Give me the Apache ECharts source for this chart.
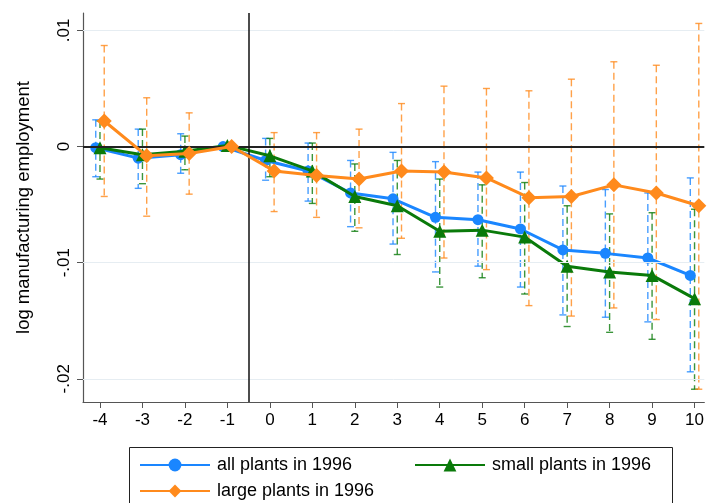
<!DOCTYPE html>
<html>
<head>
<meta charset="utf-8">
<script src="https://cdn.jsdelivr.net/npm/echarts@6/dist/echarts.min.js"></script>
<style>
  html, body { margin: 0; padding: 0; background: #fff; }
  #chart { width: 707px; height: 503px; }
</style>
</head>
<body>
<div id="chart"></div>
<script>
// event time (years relative to 1996)
const periods = [-4, -3, -2, -1, 0, 1, 2, 3, 4, 5, 6, 7, 8, 9, 10];
const yTicks = [-0.02, -0.01, 0, 0.01];

// all plants in 1996
const allVals = [-0.0001, -0.0010, -0.0007, 0, -0.0012, -0.0021, -0.0040, -0.0045, -0.0061, -0.0063, -0.0071, -0.0089, -0.0092, -0.0096, -0.0111];
const allLo = [-0.0026, -0.0036, -0.0023, null, -0.0029, -0.0047, -0.0069, -0.0084, -0.0108, -0.0103, -0.0121, -0.0145, -0.0147, -0.0151, -0.0194];
const allHi = [0.0023, 0.0015, 0.0011, null, 0.0007, 0.0003, -0.0012, -0.0005, -0.0013, -0.0022, -0.0022, -0.0034, -0.0037, -0.0040, -0.0027];

// small plants in 1996
const smallVals = [-0.0001, -0.0007, -0.0004, 0.0001, -0.0008, -0.0021, -0.0043, -0.0051, -0.0073, -0.0072, -0.0078, -0.0103, -0.0108, -0.0111, -0.0131];
const smallLo = [-0.0028, -0.0032, -0.0020, null, -0.0026, -0.0049, -0.0073, -0.0093, -0.0121, -0.0113, -0.0127, -0.0155, -0.0160, -0.0166, -0.0209];
const smallHi = [0.0022, 0.0015, 0.0009, null, 0.0007, 0.0003, -0.0015, -0.0012, -0.0028, -0.0033, -0.0031, -0.0051, -0.0058, -0.0057, -0.0054];

// large plants in 1996
const largeVals = [0.0022, -0.0008, -0.0006, 0, -0.0021, -0.0025, -0.0028, -0.0021, -0.0022, -0.0027, -0.0044, -0.0043, -0.0033, -0.0040, -0.0051];
const largeLo = [-0.0043, -0.0060, -0.0041, null, -0.0056, -0.0061, -0.0070, -0.0079, -0.0096, -0.0106, -0.0137, -0.0146, -0.0139, -0.0149, -0.0209];
const largeHi = [0.0087, 0.0042, 0.0029, null, 0.0012, 0.0012, 0.0015, 0.0037, 0.0052, 0.0050, 0.0048, 0.0058, 0.0073, 0.0070, 0.0106];

const FONT = 'Liberation Sans';
const BLUE = '#1a86ff', GREEN = '#0a7a0a', ORANGE = '#ff8a1c';

const chart = echarts.init(document.getElementById('chart'), null, { renderer: 'canvas' });

function points(vals, shift) {
  return periods.map((p, i) => [p + shift, vals[i]]);
}
function bars(lo, hi, shift) {
  const out = [];
  periods.forEach((p, i) => {
    if (lo[i] != null) out.push([p + shift, lo[i], hi[i]]);
  });
  return out;
}

function errorBar(color) {
  return function (params, api) {
    const x = api.value(0);
    const bot = api.coord([x, api.value(1)]);
    const top = api.coord([x, api.value(2)]);
    const style = { stroke: color, lineWidth: 1.4, opacity: 0.8 };
    return {
      type: 'group',
      children: [
        { type: 'line', shape: { x1: top[0], y1: top[1], x2: bot[0], y2: bot[1] },
          style: Object.assign({ lineDash: [7, 4] }, style) },
        { type: 'line', shape: { x1: top[0] - 3.5, y1: top[1], x2: top[0] + 3.5, y2: top[1] }, style: style },
        { type: 'line', shape: { x1: bot[0] - 3.5, y1: bot[1], x2: bot[0] + 3.5, y2: bot[1] }, style: style }
      ]
    };
  };
}

function yLabel(v) {
  if (Math.abs(v) < 1e-9) return '0';
  const s = Math.abs(v).toFixed(2).replace(/^0/, '');
  return (v < 0 ? '-' : '') + s;
}

const legendText = { fontSize: 18, color: '#000', fontFamily: FONT, padding: [0, 0, 0, 2] };

const option = {
  backgroundColor: '#fff',
  animation: false,
  textStyle: { fontFamily: FONT },
  grid: { left: 83, right: 0, top: 13, bottom: 101, containLabel: false },
  xAxis: {
    type: 'value',
    min: -4.4,
    max: 10.23,
    axisLine: { show: true, onZero: false, lineStyle: { color: '#555', width: 1.2 } },
    axisTick: { show: true, length: 6, customValues: periods, lineStyle: { color: '#555' } },
    axisLabel: { customValues: periods, color: '#000', fontSize: 17, margin: 10, fontFamily: FONT },
    splitLine: { show: false }
  },
  yAxis: {
    type: 'value',
    min: -0.022,
    max: 0.0115,
    name: 'log manufacturing employment',
    nameLocation: 'middle',
    nameRotate: 90,
    nameGap: 50,
    nameTextStyle: { fontSize: 18.5, color: '#000', fontFamily: FONT },
    axisLine: { show: true, onZero: false, lineStyle: { color: '#555', width: 1.2 } },
    axisTick: { show: true, length: 6, customValues: yTicks, lineStyle: { color: '#555' } },
    axisLabel: { customValues: yTicks, rotate: 90, color: '#000', fontSize: 17, margin: 10,
      fontFamily: FONT, formatter: yLabel },
    splitLine: { show: false }
  },
  legend: [
    { data: ['all plants in 1996'], left: 134, top: 451, itemWidth: 70, itemHeight: 16, textStyle: legendText },
    { data: ['small plants in 1996'], left: 409, top: 451, itemWidth: 70, itemHeight: 16, textStyle: legendText },
    { data: ['large plants in 1996'], left: 134, top: 477, itemWidth: 70, itemHeight: 16, textStyle: legendText }
  ],
  graphic: [
    { type: 'rect', left: 127, top: 445, shape: { width: 543, height: 70 },
      style: { fill: 'none', stroke: '#222', lineWidth: 1 }, z: 100 }
  ],
  series: [
    // helper for grid lines and reference lines
    {
      type: 'line', data: [], silent: true,
      markLine: {
        silent: true, symbol: 'none', label: { show: false }, animation: false,
        data: [
          { yAxis: 0.01, lineStyle: { color: '#e6edf2', width: 1, type: 'solid' } },
          { yAxis: -0.01, lineStyle: { color: '#e6edf2', width: 1, type: 'solid' } },
          { yAxis: -0.02, lineStyle: { color: '#e6edf2', width: 1, type: 'solid' } },
          { yAxis: 0, lineStyle: { color: '#222', width: 2, type: 'solid' } },
          { xAxis: -0.5, lineStyle: { color: '#111', width: 1.5, type: 'solid' } }
        ]
      },
      z: 1
    },
    { type: 'custom', renderItem: errorBar(BLUE), data: bars(allLo, allHi, -0.1), z: 2, clip: true },
    { type: 'custom', renderItem: errorBar(GREEN), data: bars(smallLo, smallHi, 0), z: 2, clip: true },
    { type: 'custom', renderItem: errorBar(ORANGE), data: bars(largeLo, largeHi, 0.1), z: 2, clip: true },
    {
      name: 'all plants in 1996', type: 'line', data: points(allVals, -0.1),
      symbol: 'circle', symbolSize: 11, color: BLUE,
      lineStyle: { width: 3, color: BLUE }, itemStyle: { color: BLUE }, z: 3
    },
    {
      name: 'small plants in 1996', type: 'line', data: points(smallVals, 0),
      symbol: 'triangle', symbolSize: 13, color: GREEN,
      lineStyle: { width: 3, color: GREEN }, itemStyle: { color: GREEN }, z: 4
    },
    {
      name: 'large plants in 1996', type: 'line', data: points(largeVals, 0.1),
      symbol: 'diamond', symbolSize: 15, color: ORANGE,
      lineStyle: { width: 3, color: ORANGE }, itemStyle: { color: ORANGE }, z: 5
    }
  ]
};

chart.setOption(option);
</script>
</body>
</html>
